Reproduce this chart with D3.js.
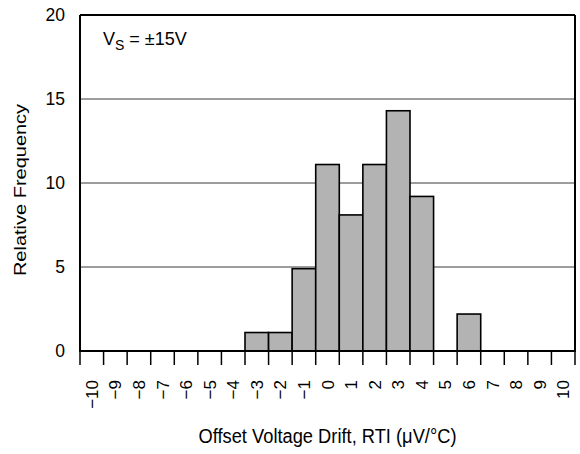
<!DOCTYPE html>
<html><head><meta charset="utf-8">
<script src="https://cdn.jsdelivr.net/npm/d3@7"></script>
<style>body{margin:0;background:#fff}svg{display:block}text{font-family:Arial,"Liberation Sans",sans-serif;fill:#000}</style>
</head><body>
<svg id="c" width="580" height="454"></svg>
<script>
const categories = [-10,-9,-8,-7,-6,-5,-4,-3,-2,-1,0,1,2,3,4,5,6,7,8,9,10];
const frequency = [0,0,0,0,0,0,0,1.1,1.1,4.9,11.1,8.1,11.1,14.3,9.2,0,2.2,0,0,0,0];
const yTicks = [0,5,10,15,20];

const svg = d3.select("#c");
const L=80, R=575, T=15, B=351;
const x = d3.scaleBand().domain(categories).range([L,R]).padding(0);
const y = d3.scaleLinear().domain([0,20]).range([B,T]);

// gridlines
svg.append("g").selectAll("line").data(yTicks.filter(d=>d>0&&d<20)).join("line")
  .attr("x1",L).attr("x2",R).attr("y1",d=>y(d)).attr("y2",d=>y(d))
  .attr("stroke","#3a3a3a").attr("stroke-width",1);

// bars
svg.append("g").selectAll("rect").data(categories.map((c,i)=>({c,v:frequency[i]})).filter(d=>d.v>0)).join("rect")
  .attr("x",d=>x(d.c)).attr("width",x.bandwidth())
  .attr("y",d=>y(d.v)).attr("height",d=>y(0)-y(d.v))
  .attr("fill","#b3b3b3").attr("stroke","#000").attr("stroke-width",1.6);

// frame
const fr = svg.append("g").attr("stroke","#000").attr("stroke-width",2).attr("fill","none");
fr.append("line").attr("x1",L).attr("x2",R).attr("y1",T).attr("y2",T);
fr.append("line").attr("x1",R).attr("x2",R).attr("y1",T).attr("y2",B);
fr.append("line").attr("x1",L).attr("x2",L).attr("y1",T).attr("y2",B);
fr.append("line").attr("x1",L-1).attr("x2",R+1).attr("y1",B).attr("y2",B);

// x ticks at bin boundaries
const bounds = categories.map(c=>x(c)).concat([R]);
svg.append("g").selectAll("line").data(bounds).join("line")
  .attr("x1",d=>d).attr("x2",d=>d).attr("y1",B).attr("y2",B+14)
  .attr("stroke","#000").attr("stroke-width",1.5);

// x tick labels
svg.append("g").selectAll("text").data(categories).join("text")
  .attr("transform",d=>`translate(${x(d)+x.bandwidth()/2+6},380) rotate(-90)`)
  .attr("text-anchor","end").style("font-size","17px")
  .text(d=>d<0?"\u2212"+(-d):String(d));

// y tick labels
svg.append("g").selectAll("text").data(yTicks).join("text")
  .attr("x",65).attr("y",d=>y(d)).attr("dy","0.35em")
  .attr("text-anchor","end").style("font-size","17.5px").text(d=>d);

// annotation
const ann = svg.append("text").attr("x",103).attr("y",45).style("font-size","18px");
ann.append("tspan").text("V");
ann.append("tspan").attr("dy",5).style("font-size","14px").text("S");
ann.append("tspan").attr("dy",-5).text(" = \u00b115V");

// axis titles
svg.append("text").attr("transform",`translate(${(L+R)/2},443) scale(0.915,1)`).attr("text-anchor","middle")
  .style("font-size","20px").text("Offset Voltage Drift, RTI (\u03bcV/\u00b0C)");
svg.append("text").attr("transform",`translate(26,190) scale(0.85,1) rotate(-90)`)
  .attr("text-anchor","middle").style("font-size","20px").text("Relative Frequency");
</script>
</body></html>
